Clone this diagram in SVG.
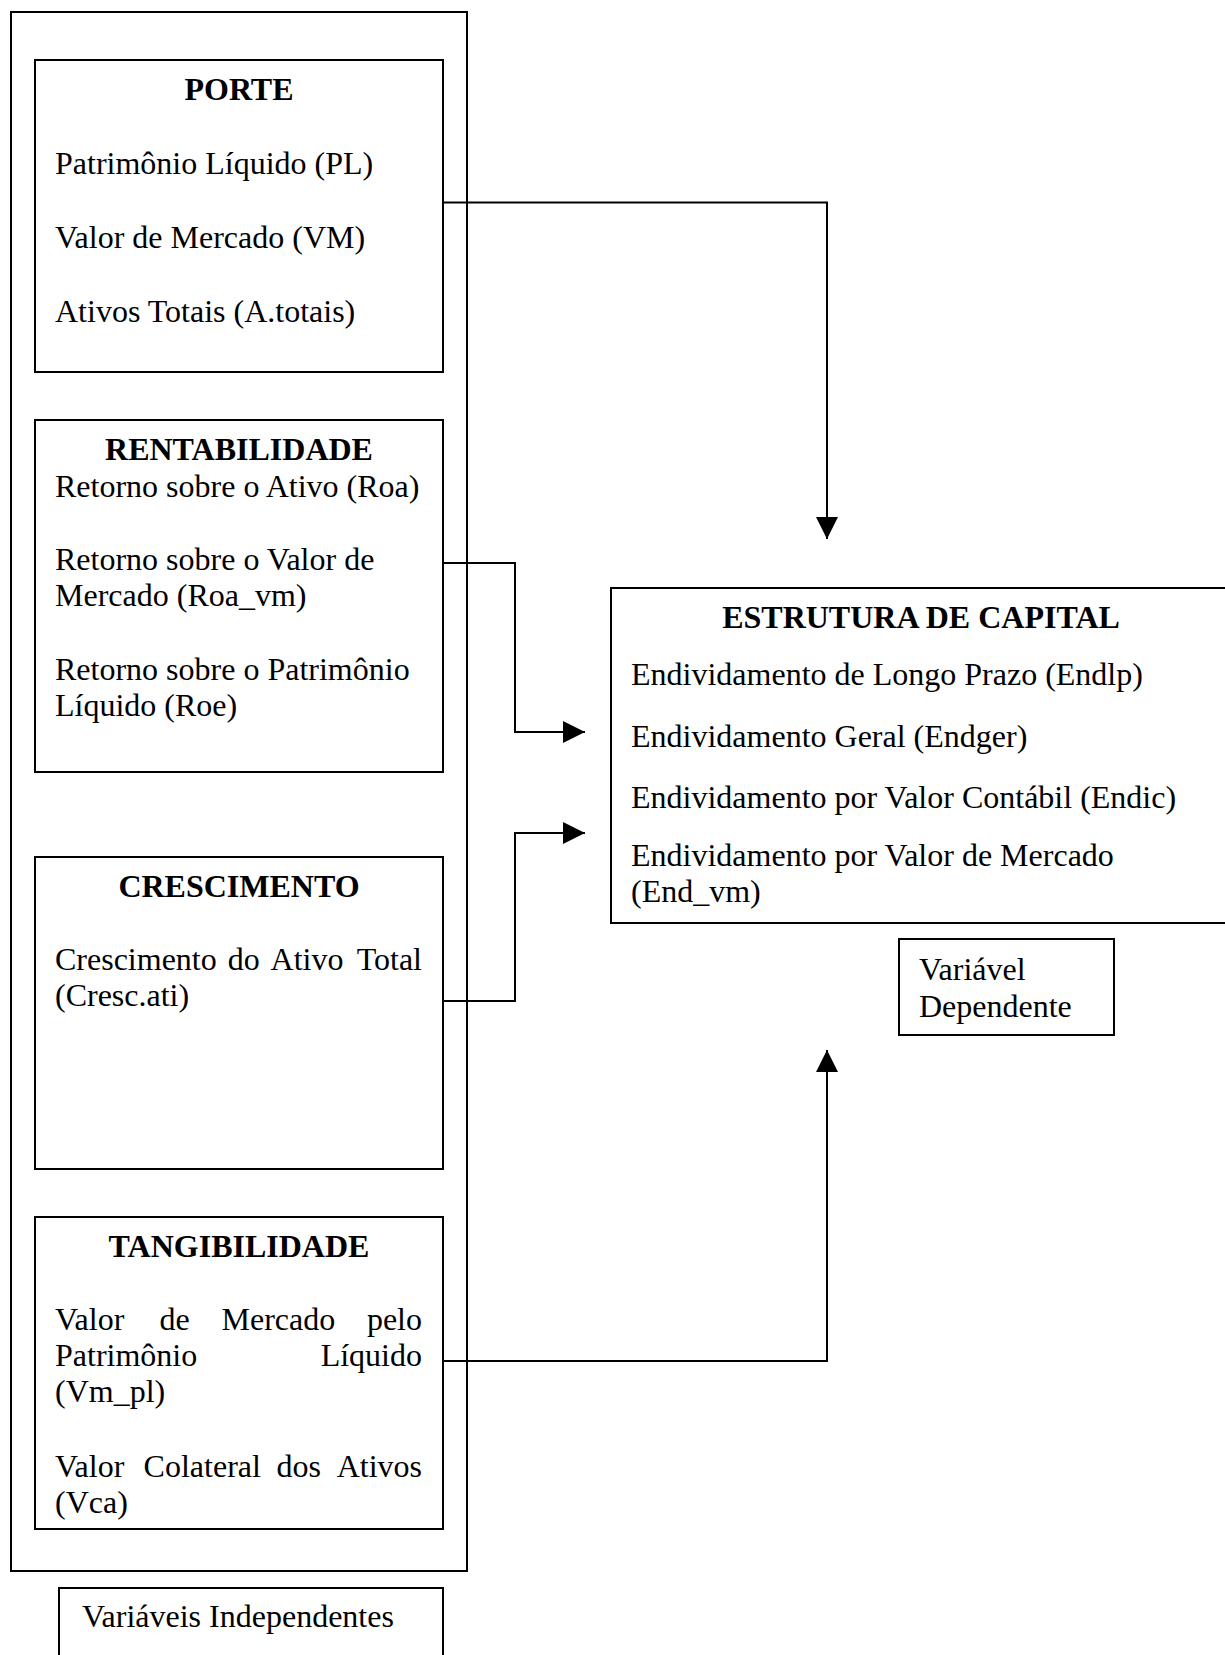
<svg xmlns="http://www.w3.org/2000/svg" width="1225" height="1655" viewBox="0 0 1225 1655">
<defs>
<style>
.box{fill:none;stroke:#000;stroke-width:2}
.conn{fill:none;stroke:#000;stroke-width:2}
.t{font-family:"Liberation Serif","Times New Roman",serif;font-size:32px;fill:#000}
.h{font-family:"Liberation Serif","Times New Roman",serif;font-size:32px;font-weight:bold;fill:#000;text-anchor:middle}
.e{text-anchor:end}
</style>
<marker id="arrow" markerUnits="userSpaceOnUse" markerWidth="22" markerHeight="22" viewBox="0 0 20 20" refX="20" refY="10" orient="auto">
<path d="M0 0 L20 10 L0 20 Z" fill="#000"/>
</marker>
</defs>
<rect width="1225" height="1655" fill="#fff"/>

<g id="independentes-frame">
<rect class="box" x="11" y="12" width="456" height="1559"/>
</g>

<g id="porte">
<rect class="box" x="35" y="60" width="408" height="312"/>
<text class="h" x="239" y="100">PORTE</text>
<text class="t" x="55" y="174">Patrimônio Líquido (PL)</text>
<text class="t" x="55" y="248">Valor de Mercado (VM)</text>
<text class="t" x="55" y="322">Ativos Totais (A.totais)</text>
</g>

<g id="rentabilidade">
<rect class="box" x="35" y="420" width="408" height="352"/>
<text class="h" x="239" y="460">RENTABILIDADE</text>
<text class="t" x="55" y="497">Retorno sobre o Ativo (Roa)</text>
<text class="t" x="55" y="570">Retorno sobre o Valor de</text>
<text class="t" x="55" y="606">Mercado (Roa_vm)</text>
<text class="t" x="55" y="680">Retorno sobre o Patrimônio</text>
<text class="t" x="55" y="716">Líquido (Roe)</text>
</g>

<g id="crescimento">
<rect class="box" x="35" y="857" width="408" height="312"/>
<text class="h" x="239" y="897">CRESCIMENTO</text>
<text class="t" x="55" y="970">Crescimento</text>
<text class="t" x="227.7" y="970">do</text>
<text class="t" x="270.6" y="970">Ativo</text>
<text class="t e" x="422" y="970">Total</text>
<text class="t" x="55" y="1006">(Cresc.ati)</text>
</g>

<g id="tangibilidade">
<rect class="box" x="35" y="1217" width="408" height="312"/>
<text class="h" x="239" y="1257">TANGIBILIDADE</text>
<text class="t" x="55" y="1330">Valor</text>
<text class="t" x="159.6" y="1330">de</text>
<text class="t" x="221.5" y="1330">Mercado</text>
<text class="t e" x="422" y="1330">pelo</text>
<text class="t" x="55" y="1366">Patrimônio</text>
<text class="t e" x="422" y="1366">Líquido</text>
<text class="t" x="55" y="1402">(Vm_pl)</text>
<text class="t" x="55" y="1477">Valor</text>
<text class="t" x="143.6" y="1477">Colateral</text>
<text class="t" x="276.6" y="1477">dos</text>
<text class="t e" x="422" y="1477">Ativos</text>
<text class="t" x="55" y="1513">(Vca)</text>
</g>

<g id="variaveis-independentes">
<path class="box" d="M59 1660 V1588 H443 V1660"/>
<text class="t" x="82" y="1627">Variáveis Independentes</text>
</g>

<g id="estrutura-de-capital">
<path class="box" d="M1230 588 H611 V923 H1230"/>
<text class="h" x="921" y="628">ESTRUTURA DE CAPITAL</text>
<text class="t" x="631" y="685">Endividamento de Longo Prazo (Endlp)</text>
<text class="t" x="631" y="747">Endividamento Geral (Endger)</text>
<text class="t" x="631" y="808">Endividamento por Valor Contábil (Endic)</text>
<text class="t" x="631" y="866">Endividamento por Valor de Mercado</text>
<text class="t" x="631" y="902">(End_vm)</text>
</g>

<g id="variavel-dependente">
<rect class="box" x="899" y="939" width="215" height="96"/>
<text class="t" x="919" y="980">Variável</text>
<text class="t" x="919" y="1017">Dependente</text>
</g>

<g id="connectors">
<path class="conn" d="M443 202.5 H827 V539" marker-end="url(#arrow)"/>
<path class="conn" d="M443 563 H515 V732 H585" marker-end="url(#arrow)"/>
<path class="conn" d="M443 1001 H515 V833 H585" marker-end="url(#arrow)"/>
<path class="conn" d="M443 1361 H827 V1050" marker-end="url(#arrow)"/>
</g>
</svg>
